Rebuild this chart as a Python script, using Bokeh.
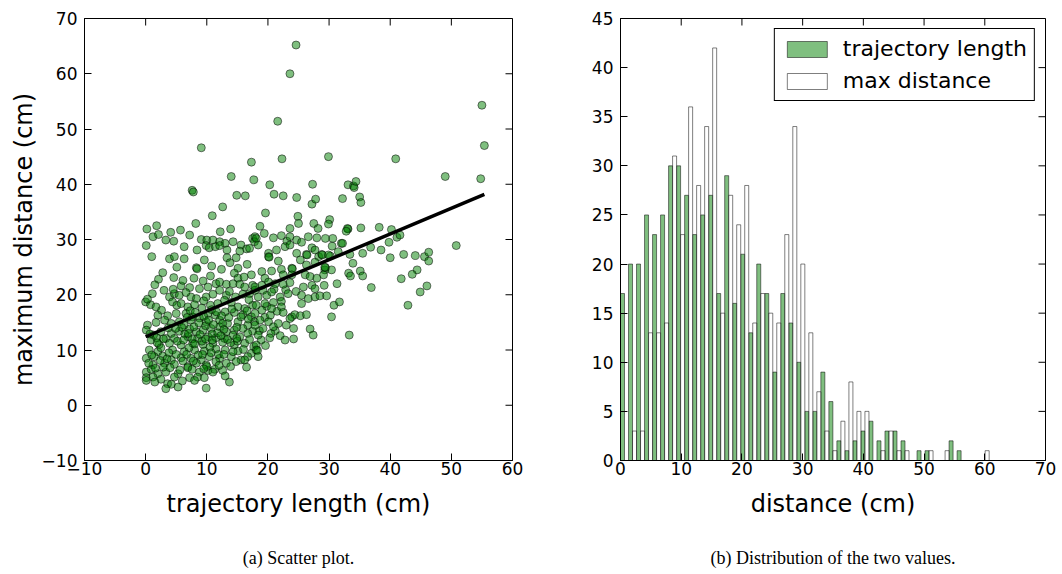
import numpy as np
from bokeh.plotting import figure
from bokeh.models import Range1d, FixedTicker, CustomJSTickFormatter, Legend, LegendItem, LinearAxis
from bokeh.layouts import row
from bokeh.embed import file_html
from bokeh.resources import INLINE

# ---------------- data: scatter (trajectory length, maximum distance) ----------------
pts_sparse = [
    (24.6, 65.2), (23.6, 60.0), (21.6, 51.4), (9.1, 46.6), (17.3, 44.0), (22.3, 44.6), (29.9, 45.0),
    (14.0, 41.4), (17.7, 40.8), (7.6, 38.9), (7.8, 38.6), (20.3, 39.9), (27.3, 40.0), (14.9, 38.0),
    (16.3, 37.9), (21.0, 38.2), (22.5, 37.9), (24.7, 37.6), (27.2, 36.4), (27.8, 37.3), (12.6, 35.9),
    (10.9, 34.3), (19.6, 34.8), (24.9, 34.2),
    (8.2, 32.9), (1.8, 32.5), (0.2, 31.9), (5.7, 31.7), (13.9, 31.9),
    (25.0, 32.9), (27.5, 32.9), (18.7, 32.4), (23.6, 32.0), (28.2, 32.0), (33.1, 31.9),
]
pts_right = [
    (55.0, 54.3), (55.4, 47.0), (54.8, 41.0), (49.0, 41.4), (40.9, 44.6), (50.8, 28.9), (33.1, 39.9),
    (34.0, 39.7), (34.1, 39.4), (34.4, 40.5), (32.2, 37.4), (35.0, 37.7), (35.2, 36.7), (30.1, 33.6),
    (29.9, 32.8), (33.0, 32.0), (32.8, 31.5), (35.2, 32.1), (38.2, 32.2), (40.2, 31.8), (41.1, 30.4),
    (41.6, 30.8), (39.8, 29.5), (38.5, 28.1), (36.8, 28.6), (35.5, 27.5), (40.0, 26.7), (42.2, 27.3),
    (44.1, 27.1), (45.6, 26.9), (46.3, 27.7), (46.3, 26.1), (44.4, 24.5), (43.6, 23.7), (41.8, 22.9),
    (46.0, 21.6), (44.9, 20.5), (42.9, 18.1), (36.9, 21.3), (33.9, 25.7), (33.4, 27.3), (33.2, 23.9),
    (33.5, 23.4), (35.1, 24.3), (35.5, 23.4), (33.3, 12.7), (30.4, 16.0), (30.8, 18.1), (31.7, 18.7),
    (29.2, 21.7), (30.6, 30.2), (32.0, 29.3), (30.5, 28.8), (30.2, 27.0), (30.4, 24.5), (29.3, 24.5),
    (29.1, 23.6), (32.2, 29.3),
]
pts_dense_left = [
    (4.1, 31.3), (12.2, 31.4), (17.5, 30.2),
    (1.2, 30.5), (2.1, 30.9), (3.3, 29.9), (4.6, 29.7), (7.2, 30.8), (9.1, 30.0), (10.0, 29.9), (11.0, 29.9),
    (12.1, 29.6), (13.0, 29.3), (14.3, 29.6), (15.6, 29.0), (16.5, 28.3), (17.9, 30.5),
    (0.1, 28.9), (6.3, 28.7), (8.4, 28.1), (9.9, 28.9), (10.4, 28.5), (11.4, 28.7), (12.1, 28.9), (13.3, 28.1),
    (15.4, 27.9), (17.0, 28.4), (17.8, 29.6),
    (1.0, 26.9), (3.9, 26.5), (4.7, 26.9), (6.3, 26.5), (9.6, 26.3), (13.3, 26.7), (14.8, 26.7),
    (8.3, 24.9), (8.4, 24.7), (15.1, 24.8), (16.6, 25.5),
    (2.1, 22.8), (4.6, 23.1), (14.5, 23.9), (15.1, 23.0), (17.3, 23.6),
    (5.8, 21.6), (7.2, 21.3), (8.8, 21.1), (10.2, 21.4), (11.5, 22.0), (12.1, 22.3), (13.2, 21.9), (14.3, 22.0),
    (15.4, 21.9), (16.2, 21.4), (17.5, 21.7),
    (3.9, 19.6), (4.7, 20.2), (5.5, 19.9), (7.4, 19.6), (8.3, 19.3), (9.9, 19.6), (11.0, 20.1), (12.1, 20.8),
    (13.2, 19.9), (14.7, 19.6), (15.9, 20.1), (17.0, 20.2), (17.9, 20.8),
    (0.0, 18.7), (0.8, 18.2), (1.7, 17.8), (2.6, 17.2), (4.4, 18.7), (5.1, 18.1), (5.8, 18.4), (6.9, 17.8),
    (8.0, 18.2), (9.2, 17.6), (10.6, 18.1), (11.8, 18.4), (12.9, 19.0), (14.0, 18.6), (15.1, 17.8), (16.2, 17.5),
    (17.5, 18.1),
    (2.0, 16.3), (3.6, 16.2), (5.0, 16.6), (6.6, 16.6), (7.7, 16.0), (8.8, 15.8), (10.2, 16.6), (11.4, 16.3),
    (13.0, 16.9), (14.5, 16.8), (15.9, 16.4), (17.3, 16.0), (17.8, 15.1),
    (0.3, 14.5), (1.7, 15.0), (3.1, 15.4), (4.2, 14.8), (5.5, 15.1), (6.3, 14.5), (7.4, 15.4), (9.9, 15.1),
    (12.1, 15.4), (13.4, 14.8), (15.1, 15.1), (16.7, 14.5),
    (0.1, 13.6), (1.3, 12.7), (2.5, 13.3), (4.2, 13.0), (5.5, 13.4), (7.2, 13.8), (8.3, 13.3), (9.4, 13.6),
    (10.7, 13.9), (12.1, 14.2), (13.2, 13.3), (14.5, 13.6), (15.9, 13.9), (17.5, 13.4),
    (0.9, 11.8), (3.3, 12.1), (4.7, 12.1), (6.9, 12.4), (8.5, 12.1), (10.2, 12.4), (11.5, 12.2), (12.9, 12.1),
    (14.3, 12.7), (15.4, 12.4), (16.7, 13.0),
    (0.6, 10.0), (2.2, 11.0), (3.9, 11.2), (5.8, 10.9), (7.7, 11.2), (9.4, 11.0), (11.0, 11.2), (12.6, 11.4),
    (14.5, 10.9), (16.2, 11.2), (17.7, 10.6),
    (2.0, 9.7), (4.4, 10.0), (6.3, 9.7), (8.0, 10.0), (9.6, 9.8), (11.5, 10.2), (13.0, 10.0), (15.1, 9.8),
    (17.3, 9.4),
    (0.1, 8.5), (1.4, 8.8), (2.8, 8.9), (4.2, 8.2), (5.8, 8.6), (7.4, 8.5), (9.1, 8.2), (10.4, 8.8), (12.1, 8.5),
    (14.0, 8.8), (15.6, 8.2), (16.7, 8.8),
    (1.2, 7.3), (3.1, 7.6), (4.7, 7.4), (6.9, 7.0), (8.3, 7.6), (9.9, 7.3), (11.5, 7.9), (13.2, 7.6), (14.8, 7.9),
    (16.2, 8.2),
    (0.1, 6.0), (0.9, 6.5), (2.0, 5.7), (3.3, 6.0), (5.3, 5.7), (6.9, 6.8), (8.8, 6.0), (10.2, 6.3), (11.3, 6.5),
    (12.6, 6.3), (11.0, 6.0),
    (0.1, 5.0), (1.2, 5.1), (2.5, 4.7), (4.7, 5.1), (7.2, 5.0), (8.5, 5.1), (9.6, 5.0),
    (3.6, 3.9), (4.2, 3.8), (13.7, 4.2), (0.1, 4.5), (3.3, 3.0), (5.3, 3.3), (9.9, 3.1),
]
pts_dense_extra = [
    (7.9, 14.2), (8.9, 12.8), (9.8, 14.4), (10.9, 12.9), (11.8, 13.1), (12.6, 14.8), (9.2, 11.6), (10.5, 10.5),
    (11.9, 9.2), (8.6, 9.1), (7.1, 10.4), (6.4, 12.9), (5.2, 11.6), (6.1, 8.0), (3.8, 9.5), (2.5, 10.4),
    (1.6, 6.7), (2.9, 6.9), (0.5, 7.6), (1.8, 12.2), (7.6, 12.0), (13.9, 11.3), (12.4, 16.2), (10.8, 17.3),
    (9.5, 18.9), (6.6, 20.4), (13.7, 20.6), (16.8, 15.6), (15.0, 11.6), (10.0, 7.0),
    (18.9, 11.8), (19.5, 15.9), (20.4, 16.3), (18.6, 13.5), (21.2, 13.5), (19.8, 17.9),
    (5.9, 14.1), (6.8, 15.9), (7.3, 17.1), (8.1, 16.8), (8.7, 14.9), (9.5, 16.1), (10.3, 15.4), (11.1, 14.6),
    (11.6, 16.9), (12.8, 13.7), (13.6, 15.9), (14.1, 17.4), (6.2, 11.8), (7.0, 13.0), (8.0, 11.1), (9.8, 12.0),
    (10.9, 11.8), (12.3, 12.6), (13.4, 11.9), (14.9, 12.1), (4.9, 13.9), (3.7, 14.0), (2.9, 12.0), (1.9, 11.3),
    (0.7, 12.9), (1.0, 9.1), (2.4, 8.1), (3.5, 8.4), (5.0, 9.2), (6.7, 9.2), (7.8, 8.0), (9.3, 9.2),
    (10.7, 9.5), (12.8, 9.2), (14.3, 9.7), (16.0, 10.1), (4.0, 6.8), (5.6, 6.4), (7.6, 6.5), (9.5, 6.6),
    (12.0, 7.2), (13.9, 7.0), (1.5, 4.2), (6.0, 4.4), (8.0, 4.5), (4.5, 21.0), (6.1, 22.6), (7.9, 23.0),
    (9.4, 22.5), (10.6, 23.4), (3.0, 20.8), (1.1, 20.2), (0.3, 19.2), (1.5, 21.8), (2.8, 24.0), (5.1, 25.0),
    (10.8, 25.2), (12.4, 24.6), (13.8, 25.8), (16.1, 23.2), (16.9, 19.1), (16.6, 17.1), (15.6, 16.0),
    (14.9, 14.1), (19.2, 20.8), (21.0, 21.0), (22.9, 20.9), (24.6, 20.6), (21.5, 17.0), (23.0, 14.5),
    (20.5, 13.0), (19.6, 10.8), (17.0, 11.9), (16.5, 6.9), (13.0, 5.3),
]
pts_dense_mid = [
    (19.4, 31.1),
    (18.1, 30.2), (20.9, 30.3), (22.2, 30.7), (23.1, 29.7), (23.6, 30.5), (24.7, 29.9), (25.5, 29.5), (26.6, 30.5),
    (28.0, 30.3), (29.4, 30.2),
    (18.4, 29.0), (20.1, 27.5), (20.1, 26.9), (20.2, 26.8), (21.4, 28.1), (22.8, 28.7), (23.6, 29.0), (24.7, 27.5),
    (26.3, 27.3), (26.4, 27.2), (27.2, 28.5), (27.7, 28.1), (28.3, 26.9), (28.8, 27.3), (28.9, 27.2), (29.9, 27.2),
    (31.5, 27.8),
    (19.0, 24.2), (21.7, 26.1), (23.9, 24.8), (24.0, 24.7), (25.3, 26.3), (26.3, 25.4), (27.7, 25.9), (29.4, 24.9),
    (29.3, 25.0),
    (19.5, 23.0), (20.6, 24.3), (22.2, 24.6), (22.5, 23.6), (23.9, 23.6), (26.1, 23.6), (26.9, 23.3), (28.0, 23.0),
    (17.9, 21.4), (19.0, 21.7), (20.1, 22.3), (21.2, 22.0), (22.5, 21.9), (23.6, 22.2), (25.8, 21.4), (27.2, 21.7),
    (27.7, 21.1), (31.3, 22.0),
    (18.4, 19.6), (19.8, 19.9), (20.6, 20.5), (22.0, 19.6), (23.3, 20.2), (25.5, 19.9), (26.6, 19.3), (27.7, 19.6),
    (28.5, 19.8), (29.6, 19.8),
    (18.1, 18.1), (19.5, 18.4), (20.9, 18.6), (22.2, 18.8), (25.5, 18.4),
    (17.9, 16.6), (19.0, 17.2), (20.6, 17.5), (22.2, 17.8), (22.5, 16.8), (23.9, 16.0), (24.4, 16.4), (25.3, 16.2),
    (26.3, 16.4),
    (18.7, 15.4), (20.1, 15.1), (20.9, 14.2), (21.7, 14.8), (23.6, 15.7), (24.2, 13.9), (26.9, 13.8), (27.4, 12.7),
    (17.9, 14.5), (19.2, 13.9), (18.4, 12.7), (20.3, 12.2), (22.0, 12.6), (22.8, 11.8), (24.2, 12.0),
    (18.1, 10.9), (18.1, 10.0), (18.3, 9.9), (18.4, 8.8),
]

# linear fit
fit_intercept = 12.4
fit_slope = 0.465

# ---------------- data: histogram ----------------
bin_width = 1.32
counts_traj = [17, 20, 20, 25, 23, 25, 30, 30, 27, 23, 25, 27, 17, 29, 16, 21, 13, 20, 17, 9, 17, 14, 10, 5,
               5, 9, 6, 2, 1, 2, 3, 4, 2, 3, 3, 2, 0, 1, 1, 0, 0, 2, 1, 0, 0, 0]
counts_maxd = [0, 3, 3, 13, 13, 14, 31, 23, 36, 28, 34, 42, 15, 27, 24, 28, 14, 17, 15, 14, 23, 34, 20, 13,
               7, 3, 1, 4, 8, 5, 5, 0, 1, 3, 1, 1, 0, 0, 1, 0, 1, 0, 0, 0, 0, 1]

scatter_xticks = [-10, 0, 10, 20, 30, 40, 50, 60]
scatter_yticks = [-10, 0, 10, 20, 30, 40, 50, 60, 70]
hist_xticks = [0, 10, 20, 30, 40, 50, 60, 70]
hist_yticks = [0, 5, 10, 15, 20, 25, 30, 35, 40, 45]

caption_a = "(a) Scatter plot."
caption_b = "(b) Distribution of the two values."

FONT = "DejaVu Sans"
TICK_LEN = 7
FRAME_H = 442
minus_fmt = "return (tick < 0 ? '\\u2212' : '') + Math.abs(tick).toString();"


def style(p, xt, yt, xr, yr, frame_w, caption):
    for ax in p.xaxis:
        ax.ticker = FixedTicker(ticks=xt)
        ax.major_label_standoff = 1
        ax.axis_label_standoff = 12
    for ax in p.yaxis:
        ax.ticker = FixedTicker(ticks=yt)
        ax.major_label_standoff = 7
        ax.axis_label_standoff = 1
    for ax in p.xaxis + p.yaxis:
        ax.formatter = CustomJSTickFormatter(code=minus_fmt)
        ax.major_tick_in = TICK_LEN
        ax.major_tick_out = 0
        ax.minor_tick_line_color = None
        ax.major_tick_line_color = "black"
        ax.axis_line_color = "black"
        ax.major_label_text_font = FONT
        ax.major_label_text_font_size = "17px"
        ax.major_label_text_color = "black"
        ax.axis_label_text_font = FONT
        ax.axis_label_text_font_size = "24px"
        ax.axis_label_text_font_style = "normal"
        ax.axis_label_text_color = "black"
    # inward ticks on the top and right edges of the frame (matplotlib classic look)
    dy = TICK_LEN * (yr[1] - yr[0]) / FRAME_H
    dx = TICK_LEN * (xr[1] - xr[0]) / frame_w
    p.segment(x0=xt, y0=[yr[1]] * len(xt), x1=xt, y1=[yr[1] - dy] * len(xt),
              line_color="black", line_width=1)
    p.segment(x0=[xr[1]] * len(yt), y0=yt, x1=[xr[1] - dx] * len(yt), y1=yt,
              line_color="black", line_width=1)
    p.xgrid.grid_line_color = None
    p.ygrid.grid_line_color = None
    p.outline_line_color = "black"
    p.outline_line_width = 1
    # caption: label of an extra, tick-less axis below the x axis
    cap = LinearAxis(ticker=FixedTicker(ticks=[]), axis_line_color=None, major_tick_line_color=None,
                     minor_tick_line_color=None, major_label_standoff=0, major_tick_in=0,
                     major_tick_out=0, axis_label=caption, axis_label_standoff=27,
                     axis_label_text_font="Liberation Serif", axis_label_text_font_size="18px",
                     axis_label_text_font_style="normal", axis_label_text_color="black")
    p.add_layout(cap, "below")


# ---------------- left: scatter ----------------
all_pts = pts_sparse + pts_right + pts_dense_left + pts_dense_extra + pts_dense_mid
traj = [q[0] for q in all_pts]
maxd = [q[1] for q in all_pts]

sx_range, sy_range = (-10, 60), (-10, 70)
p1 = figure(width=536, height=574, output_backend="svg", toolbar_location=None,
            x_range=Range1d(*sx_range), y_range=Range1d(*sy_range),
            min_border_left=84, min_border_right=24, min_border_top=18, min_border_bottom=114)
p1.scatter(traj, maxd, size=8, fill_color="green", fill_alpha=0.5,
           line_color="black", line_alpha=0.5, line_width=1)
xl = [min(traj), max(traj)]
p1.line(xl, [fit_intercept + fit_slope * v for v in xl], line_color="black", line_width=3.5)
p1.xaxis[0].axis_label = "trajectory length (cm)"
p1.yaxis[0].axis_label = "maximum distance (cm)"
style(p1, scatter_xticks, scatter_yticks, sx_range, sy_range, 428, caption_a)

# ---------------- right: histogram ----------------
edges = np.arange(len(counts_traj)) * bin_width
hx_range, hy_range = (0, 70), (0, 45)
p2 = figure(width=526, height=574, output_backend="svg", toolbar_location=None,
            x_range=Range1d(*hx_range), y_range=Range1d(*hy_range),
            min_border_left=84, min_border_right=17, min_border_top=18, min_border_bottom=114)
rg = p2.vbar(x=edges + bin_width / 4, width=bin_width / 2, top=counts_traj, bottom=0,
             fill_color="green", fill_alpha=0.5, line_color="black", line_alpha=0.5, line_width=1)
rw = p2.vbar(x=edges + 3 * bin_width / 4, width=bin_width / 2, top=counts_maxd, bottom=0,
             fill_color="white", fill_alpha=0.5, line_color="black", line_alpha=0.5, line_width=1)
p2.xaxis[0].axis_label = "distance (cm)"
style(p2, hist_xticks, hist_yticks, hx_range, hy_range, 425, caption_b)

legend = Legend(items=[LegendItem(label="trajectory length", renderers=[rg]),
                       LegendItem(label="max distance", renderers=[rw])],
                location="top_right", label_text_font=FONT, label_text_font_size="22px",
                label_text_color="black", glyph_width=50, glyph_height=20, label_height=22,
                padding=7, spacing=7, margin=10, label_standoff=11,
                border_line_color="black", border_line_width=1, border_line_alpha=1,
                background_fill_color="white", background_fill_alpha=1)
p2.add_layout(legend)

layout = row(p1, p2)
open("out.html", "w").write(file_html(layout, INLINE))
